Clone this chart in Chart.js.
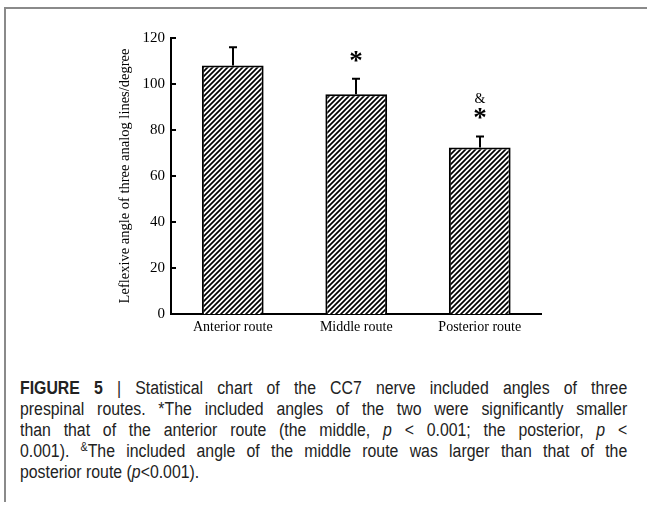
<!DOCTYPE html>
<html>
<head>
<meta charset="utf-8">
<script src="https://cdn.jsdelivr.net/npm/chart.js@4/dist/chart.umd.min.js"></script>
<style>
  html, body { margin: 0; padding: 0; background: #fff; }
  body { width: 647px; height: 506px; position: relative; overflow: hidden; }
  #frame { position: absolute; left: 4px; top: 7px; width: 660px; height: 493px;
           border-left: 2px solid #8a8a8a; border-top: 2px solid #8a8a8a; }
  #chartWrap { position: absolute; left: 0; top: 0; width: 647px; height: 360px; }
  #caption { position: absolute; left: 20px; top: 378px; width: 690px;
             transform: scaleX(0.88); transform-origin: 0 0;
             font-family: "Liberation Sans", Arial, sans-serif; font-size: 18px;
             line-height: 21px; color: #222; }
  #caption .ln { white-space: nowrap; text-align: justify; text-align-last: justify; }
  #caption .ln.last { text-align-last: left; }
  #caption b { font-weight: bold; }
  #caption sup { font-size: 12px; line-height: 0; vertical-align: 6px; }
</style>
</head>
<body>
<div id="frame"></div>
<div id="chartWrap"><canvas id="c" width="647" height="360"></canvas></div>
<div id="caption">
  <div class="ln"><b>FIGURE 5</b> | Statistical chart of the CC7 nerve included angles of three</div>
  <div class="ln">prespinal routes. *The included angles of the two were significantly smaller</div>
  <div class="ln">than that of the anterior route (the middle, <i>p</i> &lt; 0.001; the posterior, <i>p</i> &lt;</div>
  <div class="ln">0.001). <sup>&amp;</sup>The included angle of the middle route was larger than that of the</div>
  <div class="ln last">posterior route (<i>p</i>&lt;0.001).</div>
</div>
<script>
// ---- data ----
const categories = ["Anterior route", "Middle route", "Posterior route"];
const meanAngles = [108, 95.5, 72.4];
const sdAngles = [8, 6.8, 4.8];
const starMarks = ["", "*", "*"];
const ampMarks = ["", "", "&"];
const yTicks = [0, 20, 40, 60, 80, 100, 120];
const yTitle = "Leflexive angle of three analog lines/degree";

// fit caption lines (shrink font until no line overflows)
(function fitCaption() {
  const cap = document.getElementById('caption');
  const lines = cap.querySelectorAll('.ln');
  let fs = 18;
  const overflow = () => Array.from(lines).some(l => l.scrollWidth > 690);
  while (overflow() && fs > 12) { fs -= 0.25; cap.style.fontSize = fs + 'px'; }
})();

// hatch pattern
function makeHatch() {
  const p = 5;
  const cv = document.createElement('canvas');
  cv.width = p; cv.height = p;
  const g = cv.getContext('2d');
  g.fillStyle = '#fff'; g.fillRect(0, 0, p, p);
  g.strokeStyle = '#000'; g.lineWidth = 1.7;
  g.beginPath();
  g.moveTo(0, p); g.lineTo(p, 0);
  g.moveTo(-2, 2); g.lineTo(2, -2);
  g.moveTo(p - 2, p + 2); g.lineTo(p + 2, p - 2);
  g.stroke();
  return document.getElementById('c').getContext('2d').createPattern(cv, 'repeat');
}

const serif = "'Liberation Serif', 'Times New Roman', serif";

const decorPlugin = {
  id: 'decor',
  afterDraw(chart) {
    const ctx = chart.ctx;
    const ys = chart.scales.y;
    const meta = chart.getDatasetMeta(0);
    const ax = chart.chartArea.left;
    ctx.save();
    ctx.strokeStyle = '#000';
    ctx.lineWidth = 2;
    yTicks.forEach(v => {
      if (v === 0) return;
      const y = Math.round(ys.getPixelForValue(v));
      ctx.beginPath(); ctx.moveTo(ax - 1, y); ctx.lineTo(ax + 5, y); ctx.stroke();
    });
    meta.data.forEach((bar, i) => {
      const x = Math.round(bar.x);
      const yTop = ys.getPixelForValue(meanAngles[i]);
      const yErr = ys.getPixelForValue(meanAngles[i] + sdAngles[i]);
      ctx.beginPath();
      ctx.moveTo(x, yTop); ctx.lineTo(x, yErr);
      ctx.moveTo(x - 4, yErr); ctx.lineTo(x + 4, yErr);
      ctx.stroke();
      ctx.fillStyle = '#000';
      ctx.textAlign = 'center';
      ctx.textBaseline = 'middle';
      if (starMarks[i]) {
        ctx.font = "bold 27px " + serif;
        ctx.fillText(starMarks[i], x, yErr - 17);
      }
      if (ampMarks[i]) {
        ctx.font = "14px " + serif;
        ctx.fillText(ampMarks[i], x, yErr - 37);
      }
    });
    ctx.restore();
  }
};

new Chart(document.getElementById('c'), {
  type: 'bar',
  data: {
    labels: categories,
    datasets: [{
      data: meanAngles,
      backgroundColor: makeHatch(),
      borderColor: '#000',
      borderWidth: 2,
      categoryPercentage: 1,
      barPercentage: 0.5
    }]
  },
  options: {
    responsive: false,
    animation: false,
    devicePixelRatio: 1,
    layout: { padding: { left: 111, right: 105.5, top: 38, bottom: 16 } },
    plugins: { legend: { display: false }, tooltip: { enabled: false } },
    scales: {
      x: {
        grid: { display: false, drawTicks: false },
        border: { display: true, color: '#000', width: 2 },
        ticks: { color: '#000', font: { family: serif, size: 14 }, padding: 5, maxRotation: 0 },
        afterFit(s) { s.height = 30; }
      },
      y: {
        min: 0, max: 120,
        afterBuildTicks(s) { s.ticks = yTicks.map(v => ({ value: v })); },
        grid: { display: false, drawTicks: false },
        border: { display: true, color: '#000', width: 2 },
        ticks: { color: '#000', font: { family: serif, size: 15 }, padding: 6 },
        title: { display: true, text: yTitle, color: '#000',
                 font: { family: serif, size: 14.5 }, padding: { top: 5, bottom: 0 } },
        afterFit(s) { s.width = 60; }
      }
    }
  },
  plugins: [decorPlugin]
});
</script>
</body>
</html>
